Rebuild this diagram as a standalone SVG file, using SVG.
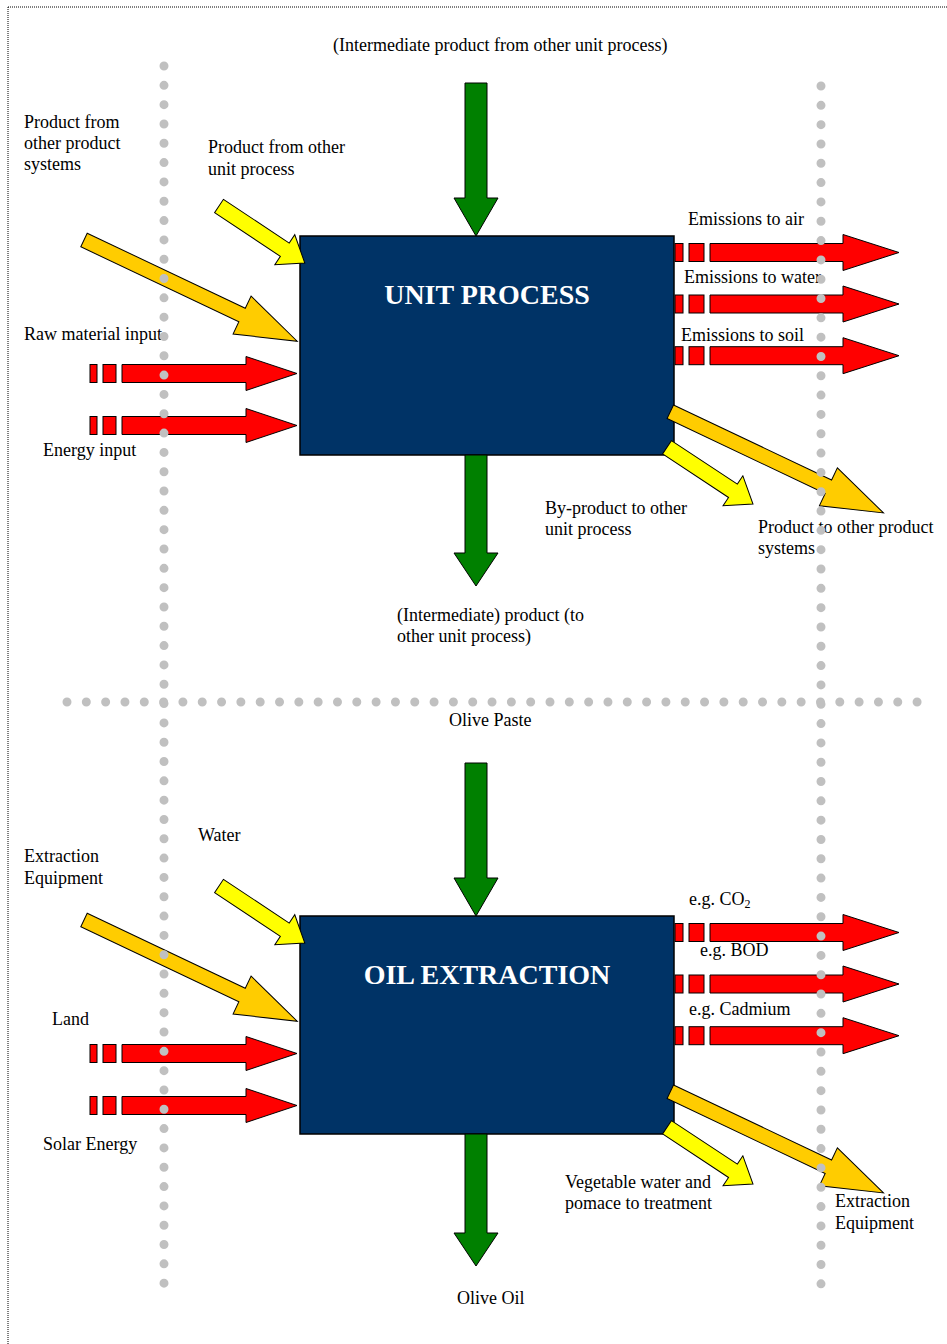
<svg xmlns="http://www.w3.org/2000/svg" width="947" height="1344" viewBox="0 0 947 1344">
<style>
.t{font-family:"Liberation Serif","Times New Roman",serif;font-size:18px;fill:#000}
.title{font-family:"Liberation Serif","Times New Roman",serif;font-size:28px;font-weight:bold;fill:#fff;text-anchor:middle}
.box{fill:#003366;stroke:#000;stroke-width:1.5}
.red{fill:#ff0000;stroke:#000;stroke-width:1}
.yel{fill:#ffff00;stroke:#000;stroke-width:1}
.ora{fill:#ffcc00;stroke:#000;stroke-width:1}
.grn{fill:#008000;stroke:#000;stroke-width:1}
.dots{stroke:#c0c0c0;stroke-width:9;stroke-linecap:round;stroke-dasharray:0 19.32;fill:none}
.border{stroke:#000;stroke-width:1;stroke-dasharray:1 1;fill:none}
</style>
<defs>
<g id="redIn">
<rect class="red" x="0" y="-9" width="7" height="18"/>
<rect class="red" x="13" y="-9" width="13" height="18"/>
<path class="red" d="M32,-9 L156,-9 L156,-17 L207,0 L156,17 L156,9 L32,9 Z"/>
</g>
<g id="redOut">
<rect class="red" x="0" y="-9" width="8" height="18"/>
<rect class="red" x="14" y="-9" width="15" height="18"/>
<path class="red" d="M35,-9 L168,-9 L168,-18 L224,0 L168,18 L168,9 L35,9 Z"/>
</g>
<path id="yelArrow" class="yel" d="M0,-8 L79,-8 L79,-18 L103,0 L79,18 L79,8 L0,8 Z"/>
<path id="oraArrow" class="ora" d="M0,-7.5 L175,-7.5 L175,-21 L236,0 L175,21 L175,7.5 L0,7.5 Z"/>
</defs>

<g id="border">
<path class="border" d="M8,7 L947,7 M8,7 L8,1344"/>
</g>

<g id="unit-process">
<rect class="box" x="300" y="236" width="374" height="219"/>
<text class="title" x="487" y="304">UNIT PROCESS</text>
</g>

<g id="oil-extraction">
<rect class="box" x="300" y="916" width="374" height="218"/>
<text class="title" x="487" y="984">OIL EXTRACTION</text>
</g>

<g id="connectors">
<path class="grn" d="M465,83 L487,83 L487,198 L498,198 L476,236 L454,198 L465,198 Z"/>
<path class="grn" d="M465,455 L487,455 L487,553 L498,553 L476,586 L454,553 L465,553 Z"/>
<use href="#yelArrow" transform="translate(219,206) rotate(33.6)"/>
<use href="#oraArrow" transform="translate(84,240) rotate(25.4)"/>
<use href="#redIn" transform="translate(90,373.5)"/>
<use href="#redIn" transform="translate(90,425.5)"/>
<use href="#redOut" transform="translate(675,252.5)"/>
<use href="#redOut" transform="translate(675,304)"/>
<use href="#redOut" transform="translate(675,355.7)"/>
<use href="#yelArrow" transform="translate(667,447.3) rotate(33.4)"/>
<use href="#oraArrow" transform="translate(670.3,411.7) rotate(25.4)"/>

<path class="grn" d="M465,763 L487,763 L487,878 L498,878 L476,916 L454,878 L465,878 Z"/>
<path class="grn" d="M465,1134 L487,1134 L487,1233 L498,1233 L476,1266 L454,1233 L465,1233 Z"/>
<use href="#yelArrow" transform="translate(219,886) rotate(33.6)"/>
<use href="#oraArrow" transform="translate(84,920) rotate(25.4)"/>
<use href="#redIn" transform="translate(90,1053.5)"/>
<use href="#redIn" transform="translate(90,1105.5)"/>
<use href="#redOut" transform="translate(675,932.5)"/>
<use href="#redOut" transform="translate(675,984)"/>
<use href="#redOut" transform="translate(675,1035.7)"/>
<use href="#yelArrow" transform="translate(667,1127.3) rotate(33.4)"/>
<use href="#oraArrow" transform="translate(670.3,1091.7) rotate(25.4)"/>
</g>

<g id="labels">
<text class="t" x="333" y="51">(Intermediate product from other unit process)</text>
<text class="t" x="24" y="128">Product from</text>
<text class="t" x="24" y="149">other product</text>
<text class="t" x="24" y="170">systems</text>
<text class="t" x="208" y="153">Product from other</text>
<text class="t" x="208" y="175">unit process</text>
<text class="t" x="24" y="340">Raw material input</text>
<text class="t" x="43" y="456">Energy input</text>
<text class="t" x="688" y="225">Emissions to air</text>
<text class="t" x="684" y="283">Emissions to water</text>
<text class="t" x="681" y="341">Emissions to soil</text>
<text class="t" x="545" y="514">By-product to other</text>
<text class="t" x="545" y="535">unit process</text>
<text class="t" x="758" y="533">Product to other product</text>
<text class="t" x="758" y="554">systems</text>
<text class="t" x="397" y="621">(Intermediate) product (to</text>
<text class="t" x="397" y="642">other unit process)</text>

<text class="t" x="449" y="726">Olive Paste</text>
<text class="t" x="198" y="841">Water</text>
<text class="t" x="24" y="862">Extraction</text>
<text class="t" x="24" y="884">Equipment</text>
<text class="t" x="689" y="905">e.g. CO<tspan font-size="12" dy="3">2</tspan></text>
<text class="t" x="700" y="956">e.g. BOD</text>
<text class="t" x="689" y="1015">e.g. Cadmium</text>
<text class="t" x="52" y="1025">Land</text>
<text class="t" x="43" y="1150">Solar Energy</text>
<text class="t" x="565" y="1188">Vegetable water and</text>
<text class="t" x="565" y="1209">pomace to treatment</text>
<text class="t" x="835" y="1207">Extraction</text>
<text class="t" x="835" y="1229">Equipment</text>
<text class="t" x="457" y="1304">Olive Oil</text>
</g>

<g id="dotted-lines">
<line class="dots" x1="164" y1="66" x2="164" y2="1283.5"/>
<line class="dots" x1="821" y1="86" x2="821" y2="1284"/>
<line class="dots" x1="67" y1="702" x2="917.2" y2="702"/>
</g>
</svg>
